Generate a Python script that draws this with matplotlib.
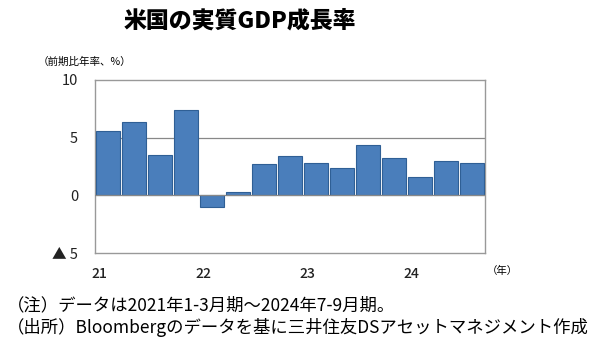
import numpy as np
import matplotlib
matplotlib.use("Agg")
import matplotlib.pyplot as plt

plt.rcParams['font.family'] = ['Noto Sans CJK JP', 'DejaVu Sans']

# quarterly data 2021Q1 - 2024Q3 (annualized q/q, %)
quarters = ['21Q1', '21Q2', '21Q3', '21Q4', '22Q1', '22Q2', '22Q3', '22Q4',
            '23Q1', '23Q2', '23Q3', '23Q4', '24Q1', '24Q2', '24Q3']
growth = [5.6, 6.4, 3.5, 7.4, -1.0, 0.3, 2.7, 3.4,
          2.8, 2.4, 4.4, 3.2, 1.6, 3.0, 2.8]
year_labels = ['21', '22', '23', '24']
ytick_vals = [-5, 0, 5, 10]
ytick_labels = ['▲ 5', '0', '5', '10']

fig = plt.figure(figsize=(6.0, 3.57), dpi=100)
ax = fig.add_axes([0.158, 0.291, 0.65, 0.485])

x = np.arange(len(growth))
ax.bar(x, growth, width=0.94, color='#4a7ebb', edgecolor='#2f5f95',
       linewidth=0.8, zorder=3)

ax.set_xlim(-0.5, len(growth) - 0.5)
ax.set_ylim(-5, 10)
ax.set_yticks(ytick_vals)
ax.set_yticklabels(ytick_labels, fontsize=10.5)
ax.set_xticks(x[::4])
ax.set_xticklabels(year_labels, fontsize=10, fontweight='medium')
ax.tick_params(length=0, pad=12, colors='#222222')
ax.tick_params(axis='x', pad=10)
for lab in ax.get_xticklabels():
    lab.set_ha('right')

ax.axhline(5, color='#888888', lw=0.9, zorder=1)
ax.axhline(0, color='#888888', lw=0.9, zorder=4)
for s in ax.spines.values():
    s.set_color('#999999')
    s.set_linewidth(1.0)

fig.text(0.40, 0.94, '米国の実質GDP成長率', ha='center', va='center',
         fontsize=16.5, fontweight='heavy')
fig.text(0.063, 0.826, '（前期比年率、%）', ha='left', va='center', fontsize=7.6)
fig.text(0.812, 0.24, '（年）', ha='left', va='center', fontsize=7.5)
fig.text(0.012, 0.145, '（注）データは2021年1-3月期～2024年7-9月期。',
         ha='left', va='center', fontsize=12.5)
fig.text(0.012, 0.083, '（出所）Bloombergのデータを基に三井住友DSアセットマネジメント作成',
         ha='left', va='center', fontsize=12.5)

fig.savefig('out.png', dpi=100, facecolor='white')
